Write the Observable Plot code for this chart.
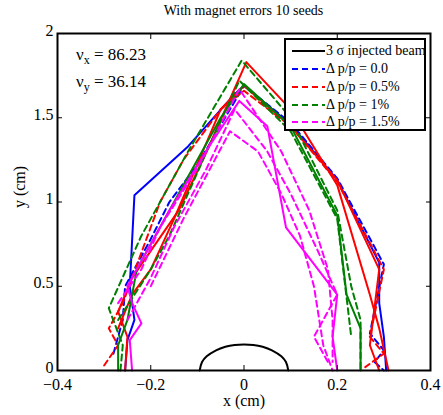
<!DOCTYPE html>
<html>
<head>
<meta charset="utf-8">
<script src="https://cdn.jsdelivr.net/npm/d3@7"></script>
<script src="https://cdn.jsdelivr.net/npm/@observablehq/plot@0.6"></script>
<style>
  body { margin: 0; background: #fff; }
  #wrap { position: relative; width: 443px; height: 415px; font-family: "Liberation Serif", "Times New Roman", Times, "DejaVu Serif", serif; }
  #title { position: absolute; left: 57px; width: 373px; top: 3px; text-align: center; font-size: 14px; }
  #nu { position: absolute; left: 76px; top: 44px; font-size: 17px; line-height: 22px; }
  #nu sub { font-size: 12px; vertical-align: -4px; }
  #legend { position: absolute; left: 284px; top: 38px; width: 142px; height: 93px; border: 2px solid #000; background: #fff; box-sizing: border-box; }
  .row { position: absolute; left: 6px; height: 18px; display: flex; align-items: center; font-size: 14px; white-space: nowrap; }
  .row svg { margin-right: 1px; }
  #ylab { position: absolute; left: 20px; top: 187px; transform: translate(-50%,-50%) rotate(-90deg); font-size: 16px; white-space: nowrap; }
  #xlab { position: absolute; left: 244px; top: 392px; transform: translateX(-50%); font-size: 16px; white-space: nowrap; }
</style>
</head>
<body>
<div id="wrap"></div>
<script>
// ---- data (cm) ----
const titleText = "With magnet errors 10 seeds";
const xTicks = [-0.4, -0.2, 0, 0.2, 0.4];
const yTicks = [0, 0.5, 1, 1.5, 2];
const legendLabels = ["3 \u03c3 injected beam", "\u0394 p/p = 0.0", "\u0394 p/p = 0.5%", "\u0394 p/p = 1%", "\u0394 p/p = 1.5%"];
const legendColors = ["#000000", "#0000ff", "#ff0000", "#008000", "#ff00ff"];

const beam = [[-0.095,0],[-0.09,0.05],[-0.08,0.084],[-0.06,0.12],[-0.04,0.141],[-0.02,0.152],[0,0.155],[0.02,0.152],[0.04,0.141],[0.06,0.12],[0.08,0.084],[0.09,0.05],[0.095,0]];

const blueSolid = [[-0.255,0],[-0.25,0.18],[-0.235,0.3],[-0.245,0.5],[-0.235,1.04],[-0.12,1.33],[-0.02,1.64],[0,1.69],[0.1,1.46],[0.2,1.13],[0.29,0.64],[0.29,0.4],[0.3,0.2],[0.305,0]];
const blueDashed = [[-0.28,0.1],[-0.26,0.3],[-0.255,0.5],[-0.2,0.78],[-0.16,1.0],[-0.1,1.22],[-0.03,1.55],[0,1.69],[0.1,1.47],[0.2,1.14],[0.3,0.63],[0.27,0.22],[0.3,0.12],[0.28,0.05],[0.3,0]];

const redSolidA = [[-0.255,0],[-0.25,0.2],[-0.27,0.35],[-0.24,0.55],[-0.19,0.75],[-0.14,0.95],[-0.08,1.3],[0.005,1.83],[0.1,1.55],[0.2,1.1],[0.27,0.45],[0.29,0.25],[0.31,0]];
const redSolidB = [[-0.27,0.25],[-0.24,0.45],[-0.2,0.6],[-0.15,0.9],[-0.05,1.55],[0,1.69],[0.1,1.45],[0.2,1.13],[0.29,0.6],[0.27,0.15],[0.29,0]];
const redDashed = [[-0.3,0.03],[-0.27,0.15],[-0.29,0.25],[-0.26,0.4],[-0.22,0.7],[-0.18,1.0],[-0.13,1.25],[-0.05,1.55],[0,1.66],[0.1,1.45],[0.2,1.12],[0.3,0.6],[0.27,0.2],[0.3,0.1],[0.26,0.02]];

const greenDashedA = [[-0.265,0],[-0.26,0.15],[-0.29,0.37],[-0.22,0.8],[-0.12,1.3],[-0.005,1.84],[0.1,1.5],[0.2,0.95],[0.23,0.5],[0.25,0.3],[0.25,0]];
const greenSolid = [[-0.27,0],[-0.27,0.15],[-0.25,0.3],[-0.23,0.6],[-0.15,1.0],[-0.05,1.5],[0,1.7],[0.1,1.45],[0.2,0.92],[0.22,0.45],[0.25,0.25],[0.25,0]];
const greenDashedB = [[-0.27,0.3],[-0.2,0.6],[-0.16,0.8],[-0.08,1.3],[-0.01,1.72],[0.1,1.42],[0.2,0.9],[0.23,0.2]];

const magentaSolid = [[-0.24,0],[-0.245,0.18],[-0.22,0.28],[-0.24,0.4],[-0.25,0.5],[-0.21,0.7],[-0.16,0.95],[-0.07,1.35],[-0.01,1.6],[0.05,1.45],[0.09,0.85],[0.2,0.45],[0.19,0.2],[0.2,0]];
const magentaDashedA = [[-0.27,0.4],[-0.22,0.6],[-0.18,0.85],[-0.1,1.2],[-0.01,1.67],[0.08,1.3],[0.14,0.95],[0.18,0.6],[0.19,0.3],[0.19,0.05]];
const magentaDashedB = [[-0.25,0.3],[-0.2,0.55],[-0.15,0.85],[-0.08,1.2],[-0.02,1.55],[0.05,1.3],[0.1,1.05],[0.16,0.7],[0.2,0.45],[0.15,0.2],[0.18,0.05]];
const magentaDashedC = [[-0.2,0.5],[-0.13,0.9],[-0.03,1.42],[0.03,1.3],[0.08,1.05],[0.12,0.8],[0.15,0.5],[0.17,0.15],[0.19,0]];

const curves = [
  {pts: blueSolid, color: "#0000ff", dash: null},
  {pts: blueDashed, color: "#0000ff", dash: "6,4"},
  {pts: redSolidA, color: "#ff0000", dash: null},
  {pts: redSolidB, color: "#ff0000", dash: null},
  {pts: redDashed, color: "#ff0000", dash: "6,4"},
  {pts: greenDashedA, color: "#008000", dash: "6,4"},
  {pts: greenSolid, color: "#008000", dash: null},
  {pts: greenDashedB, color: "#008000", dash: "6,4"},
  {pts: magentaSolid, color: "#ff00ff", dash: null},
  {pts: magentaDashedA, color: "#ff00ff", dash: "6,4"},
  {pts: magentaDashedB, color: "#ff00ff", dash: "6,4"},
  {pts: magentaDashedC, color: "#ff00ff", dash: "6,4"}
];

const fmt = d => d === 0 ? "0" : String(d).replace("-", "\u2212");
const serif = "'Liberation Serif', 'Times New Roman', Times, 'DejaVu Serif', serif";

const marks = [];
for (const c of curves) {
  marks.push(Plot.line(c.pts, {x: d => d[0], y: d => d[1], stroke: c.color, strokeWidth: 2, strokeDasharray: c.dash || undefined}));
}
marks.push(Plot.line(beam, {x: d => d[0], y: d => d[1], stroke: "#000", strokeWidth: 2, curve: "catmull-rom"}));
marks.push(Plot.axisX(xTicks, {anchor: "bottom", tickSize: 0, tickPadding: 8, tickFormat: fmt, fontSize: 16, label: null}));
marks.push(Plot.axisX(xTicks, {anchor: "bottom", tickSize: -5, tickFormat: () => "", label: null}));
marks.push(Plot.axisX(xTicks, {anchor: "top", tickSize: -5, tickFormat: () => "", label: null}));
marks.push(Plot.axisY(yTicks, {anchor: "left", tickSize: 0, tickPadding: 4, tickFormat: fmt, fontSize: 16, label: null, dy: -3}));
marks.push(Plot.axisY(yTicks, {anchor: "left", tickSize: -5, tickFormat: () => "", label: null}));
marks.push(Plot.axisY(yTicks, {anchor: "right", tickSize: -5, tickFormat: () => "", label: null}));
marks.push(Plot.frame({stroke: "#000", strokeWidth: 2}));

const chart = Plot.plot({
  width: 443, height: 415,
  marginLeft: 57, marginRight: 13, marginTop: 33, marginBottom: 45,
  style: {fontFamily: serif, color: "#000", background: "#fff"},
  x: {domain: [-0.4, 0.4]},
  y: {domain: [0, 2]},
  marks
});

const wrap = document.getElementById("wrap");
wrap.appendChild(chart);

const add = (html, id) => { const d = document.createElement("div"); d.id = id; d.innerHTML = html; wrap.appendChild(d); return d; };
add(titleText, "title");
add("\u03bd<sub>x</sub> = 86.23<br>\u03bd<sub>y</sub> = 36.14", "nu");
add("y (cm)", "ylab");
add("x (cm)", "xlab");
const leg = add("", "legend");
const rowTops = [2, 20, 38, 56, 73];
legendLabels.forEach((lab, i) => {
  const r = document.createElement("div");
  r.className = "row";
  r.style.top = rowTops[i] + "px";
  const dash = i === 0 ? "" : 'stroke-dasharray="6,4"';
  r.innerHTML = `<svg width="33" height="6"><line x1="0" y1="3" x2="33" y2="3" stroke="${legendColors[i]}" stroke-width="2" ${dash}/></svg><span>${lab}</span>`;
  leg.appendChild(r);
});
</script>
</body>
</html>
